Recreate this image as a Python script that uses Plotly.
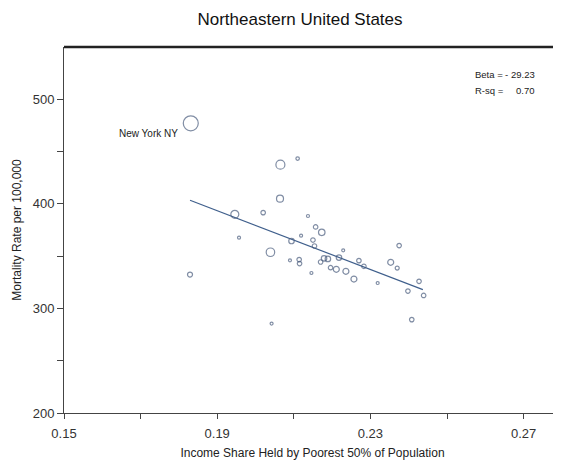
import plotly.graph_objects as go

# ---- data ----
income_share = [0.1831, 0.2065, 0.2110, 0.2064, 0.2020, 0.1946, 0.1957, 0.2039, 0.1829, 0.2042,
                0.2137, 0.2157, 0.2173, 0.2119, 0.2094, 0.2150, 0.2154, 0.2090, 0.2114, 0.2115,
                0.2146, 0.2170, 0.2179, 0.2189, 0.2229, 0.2218, 0.2196, 0.2211, 0.2236, 0.2257,
                0.2270, 0.2283, 0.2319, 0.2375, 0.2353, 0.2370, 0.2427, 0.2398, 0.2439, 0.2408]
mortality = [477.0, 437.5, 443.3, 405.0, 391.6, 390.0, 367.7, 353.7, 332.4, 285.5,
             388.4, 377.9, 372.8, 369.6, 364.5, 365.4, 359.7, 346.0, 346.7, 342.9,
             333.9, 344.4, 347.9, 347.3, 355.6, 348.6, 339.0, 337.4, 335.5, 328.1,
             345.7, 340.3, 324.3, 360.1, 344.1, 338.6, 325.9, 316.6, 312.4, 289.3]
pop_size = [15, 9, 3.5, 7, 4.5, 8, 3, 8.5, 5, 3,
            3, 4.5, 6.5, 3, 5.5, 4.5, 4.5, 3, 4.5, 4.5,
            3, 4.5, 5.5, 5.5, 3, 5.5, 4.5, 6, 6, 6,
            4.5, 4.5, 3, 4.5, 6, 4, 4.5, 4.5, 4.5, 4.5]
label_city = "New York NY"
label_x, label_y = 0.1831, 477.0

fit_x = [0.1829, 0.2437]
fit_y = [403.4, 318.0]

beta_text = "29.23"
rsq_text = "0.70"

x_tickvals = [0.15, 0.17, 0.19, 0.21, 0.23, 0.25, 0.27]
x_ticktext = ["0.15", "", "0.19", "", "0.23", "", "0.27"]
y_tickvals = [200, 250, 300, 350, 400, 450, 500]
y_ticktext = ["200", "", "300", "", "400", "", "500"]

FONT = "Liberation Sans, Arial, sans-serif"
MARK = "#4a5c7e"

# page body has an 8px margin; the figure is sized so it ends at the window edge
OFF = 8
W, H = 561 - OFF, 461 - OFF
PL, PT, PB = 64, 47, 412.7          # plot-area edges in window pixels
PR = 561


def px_paper(px, py):
    return (px - PL) / (PR - PL), (PB - py) / (PB - PT)


fig = go.Figure()
fig.add_trace(go.Scatter(
    x=fit_x, y=fit_y, mode="lines",
    line=dict(color="#3f5f8c", width=1.2), hoverinfo="skip", showlegend=False))
fig.add_trace(go.Scatter(
    x=income_share, y=mortality, mode="markers",
    marker=dict(symbol="circle-open", size=pop_size, color=MARK, line=dict(width=1.2, color=MARK)),
    showlegend=False))

fig.add_annotation(x=label_x, y=label_y, text=label_city, showarrow=False,
                   xanchor="right", yanchor="middle", xshift=-11, yshift=-10,
                   font=dict(family=FONT, size=10, color="#222"))

for txt, px, py, anchor in [("Beta =", 474, 74, "left"), ("-", 506.5, 74, "center"),
                            (beta_text, 536, 74, "right"),
                            ("R-sq =", 474, 90.5, "left"), (rsq_text, 536, 90.5, "right")]:
    ax, ay = px_paper(px, py)
    fig.add_annotation(x=ax, y=ay, xref="paper", yref="paper", text=txt,
                       showarrow=False, xanchor=anchor, yanchor="middle", borderpad=0,
                       font=dict(family=FONT, size=9.5, color="#222"))

fig.add_shape(type="line", xref="paper", yref="paper", x0=0, x1=1, y0=1, y1=1,
              line=dict(color="#222", width=2.5))

fig.update_layout(
    width=W, height=H,
    margin=dict(l=PL - OFF, r=0, t=PT - OFF, b=H - (PB - OFF), pad=0),
    paper_bgcolor="white", plot_bgcolor="white",
    title=dict(text="Northeastern United States", x=(300 - OFF) / W, xanchor="center",
               y=1 - (19 - OFF) / H, yanchor="middle",
               font=dict(family=FONT, size=17, color="#111")),
    font=dict(family=FONT, color="#333"),
)
fig.update_xaxes(
    range=[0.15, 0.15 + (PR - PL) / 3830], tickvals=x_tickvals, ticktext=x_ticktext,
    ticks="outside", ticklen=5, tickcolor="#444", showline=True, linecolor="#444", linewidth=1,
    showgrid=False, zeroline=False, tickfont=dict(size=13, color="#333"), ticklabelstandoff=3,
    title=dict(text="Income Share Held by Poorest 50% of Population", standoff=9,
               font=dict(size=12, color="#222")))
fig.update_yaxes(
    range=[200, 550], tickvals=y_tickvals, ticktext=y_ticktext,
    ticks="outside", ticklen=6, tickcolor="#444", showline=True, linecolor="#444", linewidth=1,
    showgrid=False, zeroline=False, tickfont=dict(size=13, color="#333"),
    title=dict(text="Mortality Rate per 100,000", standoff=8,
               font=dict(size=12, color="#222")))

fig.write_html("out.html")
